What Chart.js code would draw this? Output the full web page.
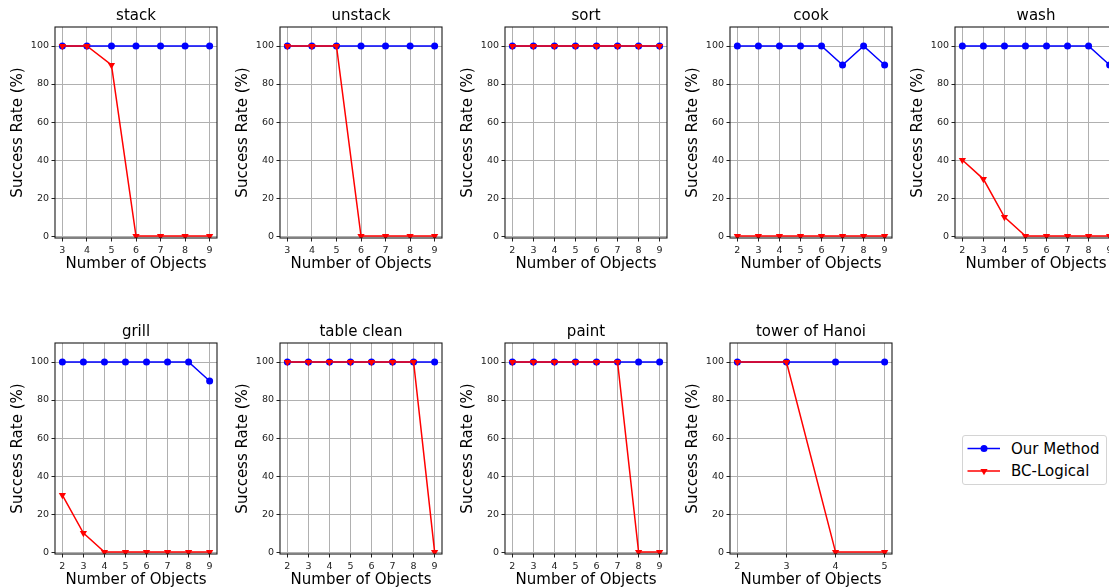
<!DOCTYPE html>
<html><head><meta charset="utf-8">
<script src="https://cdn.jsdelivr.net/npm/chart.js@4.4.1/dist/chart.umd.min.js"></script>
<style>
html,body{margin:0;padding:0;background:#fff;}
body{width:1109px;height:588px;overflow:hidden;position:relative;font-family:"DejaVu Sans",sans-serif;}
canvas{position:absolute;}
#legend{position:absolute;left:962px;top:435px;width:143px;height:48px;border:1px solid #d4d4d4;border-radius:3px;background:#fff;}
#legend svg{position:absolute;left:0;top:0;}
#legend span{position:absolute;left:48px;font-size:15px;color:#000;line-height:18px;white-space:nowrap;}
</style></head><body>
<div id="legend">
  <svg width="143" height="48">
    <line x1="4.5" y1="12.5" x2="37" y2="12.5" stroke="blue" stroke-width="1.5"/>
    <circle cx="21" cy="12.5" r="3.5" fill="blue"/>
    <line x1="4.5" y1="35" x2="37" y2="35" stroke="red" stroke-width="1.5"/>
    <polygon points="17.4,32.9 24.6,32.9 21,39.2" fill="red"/>
  </svg>
  <span style="top:3.5px">Our Method</span>
  <span style="top:26px">BC-Logical</span>
</div>
<script>
// ---- data ----
const stackObjects = [3,4,5,6,7,8,9];
const stackOurs    = [100,100,100,100,100,100,100];
const stackBC      = [100,100,90,0,0,0,0];

const unstackObjects = [3,4,5,6,7,8,9];
const unstackOurs    = [100,100,100,100,100,100,100];
const unstackBC      = [100,100,100,0,0,0,0];

const sortObjects = [2,3,4,5,6,7,8,9];
const sortOurs    = [100,100,100,100,100,100,100,100];
const sortBC      = [100,100,100,100,100,100,100,100];

const cookObjects = [2,3,4,5,6,7,8,9];
const cookOurs    = [100,100,100,100,100,90,100,90];
const cookBC      = [0,0,0,0,0,0,0,0];

const washObjects = [2,3,4,5,6,7,8,9];
const washOurs    = [100,100,100,100,100,100,100,90];
const washBC      = [40,30,10,0,0,0,0,0];

const grillObjects = [2,3,4,5,6,7,8,9];
const grillOurs    = [100,100,100,100,100,100,100,90];
const grillBC      = [30,10,0,0,0,0,0,0];

const tableObjects = [2,3,4,5,6,7,8,9];
const tableOurs    = [100,100,100,100,100,100,100,100];
const tableBC      = [100,100,100,100,100,100,100,0];

const paintObjects = [2,3,4,5,6,7,8,9];
const paintOurs    = [100,100,100,100,100,100,100,100];
const paintBC      = [100,100,100,100,100,100,0,0];

const hanoiObjects = [2,3,4,5];
const hanoiOurs    = [100,100,100,100];
const hanoiBC      = [100,100,0,0];

const yTicks = [0,20,40,60,80,100];
const seriesNames = ['Our Method','BC-Logical'];

const panels = [
  {title:'stack', x:stackObjects, a:stackOurs, b:stackBC},
  {title:'unstack', x:unstackObjects, a:unstackOurs, b:unstackBC},
  {title:'sort', x:sortObjects, a:sortOurs, b:sortBC},
  {title:'cook', x:cookObjects, a:cookOurs, b:cookBC},
  {title:'wash', x:washObjects, a:washOurs, b:washBC},
  {title:'grill', x:grillObjects, a:grillOurs, b:grillBC},
  {title:'table clean', x:tableObjects, a:tableOurs, b:tableBC},
  {title:'paint', x:paintObjects, a:paintOurs, b:paintBC},
  {title:'tower of Hanoi', x:hanoiObjects, a:hanoiOurs, b:hanoiBC},
];

// ---- layout ----
const FONT = "DejaVu Sans";
const colLeft0 = 0, colStep = 225;
const rowTops = [0, 316];
const CW = 227, CH = 274;

const framePlugin = {
  id:'frame',
  afterDatasetsDraw(chart){
    const {ctx, chartArea:a} = chart;
    ctx.save();
    ctx.strokeStyle = '#1a1a1a';
    ctx.lineWidth = 1.1;
    ctx.strokeRect(a.left, a.top, a.right - a.left, a.bottom - a.top);
    ctx.restore();
  }
};

panels.forEach((p, i) => {
  const col = i % 5, row = Math.floor(i / 5);
  const cv = document.createElement('canvas');
  cv.width = CW; cv.height = CH;
  cv.style.left = (colLeft0 + col * colStep) + 'px';
  cv.style.top = rowTops[row] + 'px';
  document.body.appendChild(cv);

  const xmin = Math.min(...p.x), xmax = Math.max(...p.x);
  const m = (xmax - xmin) * 0.05;
  const xs = p.x;

  new Chart(cv, {
    type:'line',
    data:{
      datasets:[
        {label:seriesNames[0], data:xs.map((v,k)=>({x:v, y:p.a[k]})), borderColor:'#0000ff', backgroundColor:'#0000ff',
         borderWidth:1.5, pointStyle:'circle', pointRadius:3.5, pointBorderWidth:0, tension:0, order:2},
        {label:seriesNames[1], data:xs.map((v,k)=>({x:v, y:p.b[k]})), borderColor:'#ff0000', backgroundColor:'#ff0000',
         borderWidth:1.5, pointStyle:'triangle', pointRotation:180, pointRadius:4.2, pointBorderWidth:0, tension:0, order:1}
      ]
    },
    options:{
      responsive:false, animation:false, devicePixelRatio:1,
      layout:{padding:{left:0, right:10, top:0, bottom:0}, autoPadding:false},
      plugins:{
        legend:{display:false}, tooltip:{enabled:false},
        title:{display:true, text:p.title, fullSize:false, color:'#000',
          font:{family:FONT, size:15, weight:'normal', lineHeight:1.2}, padding:{top:7, bottom:2}}
      },
      scales:{
        x:{type:'linear', min:xmin - m, max:xmax + m,
          afterBuildTicks:s=>{ s.ticks = xs.map(v=>({value:v})); },
          afterFit:s=>{ s.height = 36; },
          grid:{color:'#b0b0b0', lineWidth:1, tickLength:3.5, tickColor:'#222', tickWidth:1},
          border:{display:false},
          ticks:{font:{family:FONT, size:9.5}, color:'#222', padding:3, maxRotation:0, autoSkip:false},
          title:{display:true, text:'Number of Objects', color:'#000', font:{family:FONT, size:15, lineHeight:1.2}, padding:{top:0, bottom:0.5}}
        },
        y:{type:'linear', min:-1, max:110,
          afterBuildTicks:s=>{ s.ticks = yTicks.map(v=>({value:v})); },
          afterFit:s=>{ s.width = 55; },
          grid:{color:'#b0b0b0', lineWidth:1, tickLength:3.5, tickColor:'#222', tickWidth:1},
          border:{display:false},
          ticks:{font:{family:FONT, size:9.5}, color:'#222', padding:2.5},
          title:{display:true, text:'Success Rate (%)', color:'#000', font:{family:FONT, size:15, lineHeight:1.2}, padding:{top:9.5, bottom:0}}
        }
      }
    },
    plugins:[framePlugin]
  });
});
</script>
</body></html>
